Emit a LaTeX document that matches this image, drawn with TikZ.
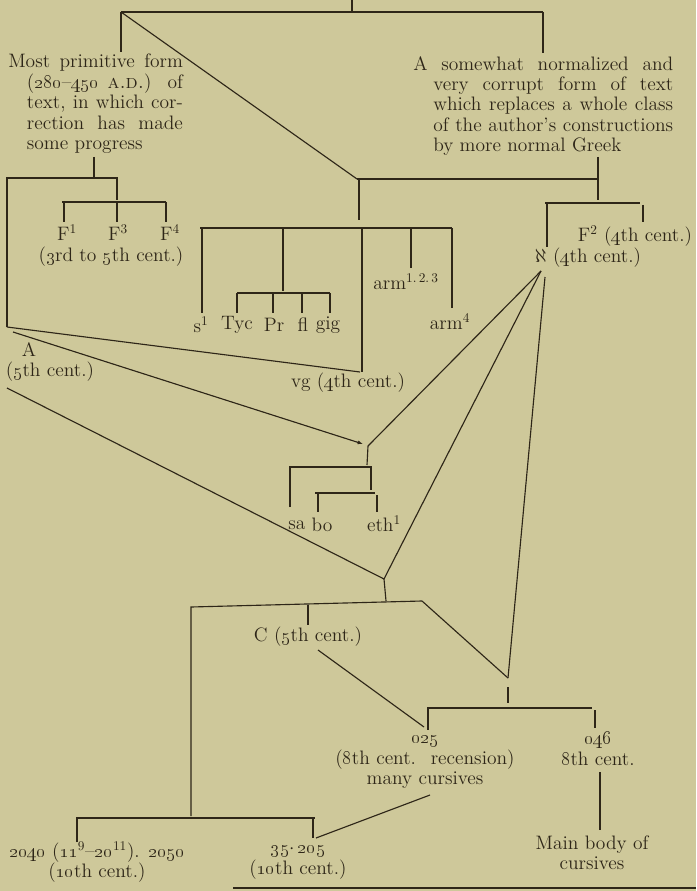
\documentclass[tikz,border=0pt]{standalone}
\usepackage{amsmath,amssymb}
\usepackage{tikz}
\usetikzlibrary{arrows.meta}
\definecolor{paper}{RGB}{206,200,154}
\definecolor{ink}{RGB}{46,38,24}
\newcommand{\stemfont}{\fontsize{14.6}{15.3}\selectfont}
\newcommand{\os}[1]{\oldstylenums{#1}}
\newcommand{\jline}[2]{\makebox[#1][s]{#2}}

\begin{document}
\begin{tikzpicture}[x=0.75pt,y=-0.75pt,>=Latex,
  every node/.style={font=\stemfont,text=ink,inner sep=0pt},
  stem/.style={draw=ink,line width=0.85pt}]
\path[use as bounding box,fill=paper] (0,0) rectangle (696,891);

% the two great branches
\node[anchor=north west,align=left] (prim) at (8,54)
  {\jline{131pt}{Most primitive form}\\
   \hspace*{14pt}\jline{117pt}{(\os{280}--\os{450} \textsc{a.d.}) of}\\
   \hspace*{14pt}\jline{117pt}{text, in which cor-}\\
   \hspace*{14pt}\jline{117pt}{rection has made}\\
   \hspace*{14pt}some progress};
\node[anchor=north west,align=left] (norm) at (413,56)
  {\jline{195pt}{A somewhat normalized and}\\
   \hspace*{15pt}\jline{180pt}{very corrupt form of text}\\
   \hspace*{15pt}\jline{180pt}{which replaces a whole class}\\
   \hspace*{15pt}\jline{180pt}{of the author's constructions}\\
   \hspace*{15pt}by more normal Greek};

% labels
\node (F1) at (67,233) {F$^1$};
\node (F3) at (118,233) {F$^3$};
\node (F4) at (170,233) {F$^4$};
\node (Fcent) at (111,257) {(\os{3}rd to \os{5}th cent.)};
\node (F2) at (635,236) {F$^2$ (\os{4}th cent.)};
\node (aleph) at (588,258) {$\aleph$ (\os{4}th cent.)};
\node (s1) at (201,325) {s$^1$};
\node (Tyc) at (237,325) {Tyc};
\node (Pr) at (274,325) {Pr};
\node (fl) at (303,325) {fl};
\node (gig) at (328,325) {gig};
\node (arm123) at (406,282) {arm$^{1.\,2.\,3}$};
\node (arm4) at (450,322) {arm$^4$};
\node (vg) at (348,383) {vg (\os{4}th cent.)};
\node (A) at (29,350) {A};
\node (Acent) at (50,372) {(\os{5}th cent.)};
\node (sa) at (297,525) {sa};
\node (bo) at (322,525) {bo};
\node (eth) at (384,524) {eth$^1$};
\node (C) at (308,637) {C (\os{5}th cent.)};
\node[align=center] (rec) at (425,762)
  {\os{025}\\(\os{8}th cent.~ recension)\\many cursives};
\node[align=center] (unc) at (598,749) {\os{046}\\\os{8}th cent.};
\node[align=center] (mainb) at (592,853) {Main body of\\cursives};
\node[align=center] (mins) at (97,862)
  {\os{2040} (\os{11}$^9$--\os{20}$^{11}$). \os{2050}\\(\os{10}th cent.)};
\node[align=center] (minr) at (298,862) {\os{35}$\cdot$\,\os{205}\\(\os{10}th cent.)};

% junctions
\coordinate (root) at (352,0);
\coordinate (rootj) at (352,12);
\coordinate (primj) at (121,12);
\coordinate (normj) at (543,12);
\coordinate (midj) at (357,179);
\coordinate (greekj) at (598,179);
\coordinate (Acorner) at (7,327);
\coordinate (saj) at (368,446);
\coordinate (Cj) at (384,579);
\coordinate (curj) at (508,678);
\coordinate (alephb) at (541,271);

% top
\draw[stem] (root) -- (rootj);
\draw[stem] (primj) -- (normj);
\draw[stem] (primj) -- ++(0,40);
\draw[stem] (normj) -- ++(0,41);
\draw[stem] (primj) -- (midj);

% primitive branch
\draw[stem] (94,157) -- (94,177);
\draw[stem] (Acorner) |- (118,178);
\draw[stem] (117,178) -- (117,200);
\draw[stem] (62,202) -- (166,202);
\foreach \x in {64,117,166}
  \draw[stem] (\x,202) -- (\x,222);

% normalized branch
\draw[stem] (598,157) -- (598,200);
\draw[stem] (midj) -- (greekj);
\draw[stem] (545,203) -- (640,203);
\draw[stem] (547,203) -- (547,247);
\draw[stem] (643,205) -- (643,222);
\draw[stem] (359,179) -- (359,220);
\draw[stem] (200,228) -- (452,228);
\draw[stem] (202,228) -- (202,313);
\draw[stem] (283,228) -- (283,291);
\draw[stem] (362,228) -- (362,372);
\draw[stem] (411,228) -- (411,268);
\draw[stem] (452,228) -- (452,308);
\draw[stem] (237,293) -- (330,293);
\foreach \x in {237,273,302,330}
  \draw[stem] (\x,293) -- (\x,313);

% mixtures from A
\draw[stem] (Acorner) -- (360,372);
\draw[stem,-{Latex[length=4pt,width=3pt]}] (13,332) -- (363,444);
\draw[stem] (7,388) -- (Cj);

% from aleph
\draw[stem] (alephb) -- (saj);
\draw[stem] (alephb) -- (Cj);
\draw[stem] (545,277) -- (curj);

% coptic and ethiopic
\draw[stem] (saj) -- (367,465);
\draw[stem] (290,507) |- (371,467) -- (371,490);
\draw[stem] (315,493) -- (375,493);
\draw[stem] (318,493) -- (318,512);
\draw[stem] (377,495) -- (377,512);

% lower stem
\draw[stem] (Cj) -- (386,601);
\draw[stem] (191,816) -- (191,607) -- (422,601);
\draw[stem] (308,605) -- (308,625);
\draw[stem] (422,601) -- (curj);
\draw[stem] (318,650) -- (424,727);
\draw[stem] (curj) ++(0,9) -- ++(0,16);
\draw[stem] (427,708) -- (592,708);
\draw[stem] (428,709) -- (428,730);
\draw[stem] (595,710) -- (595,728);
\draw[stem] (600,772) -- (600,830);
\draw[stem] (430,795) -- (316,838);
\draw[stem] (77,842) |- (315,818);
\draw[stem] (313,818) -- (313,838);
\draw[stem] (233,888) -- (696,888);
\end{tikzpicture}
\end{document}
